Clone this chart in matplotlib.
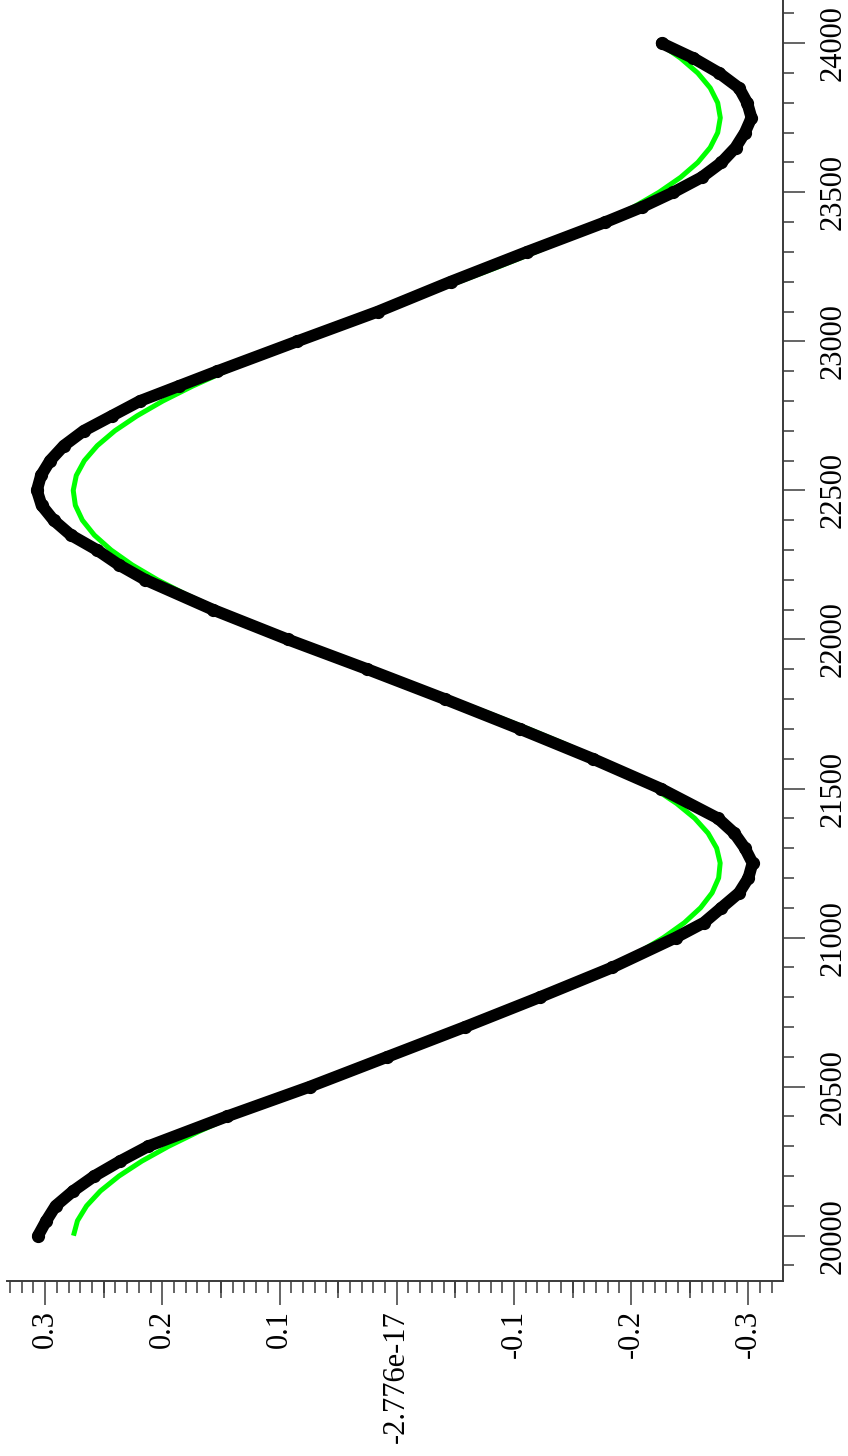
import numpy as np
import matplotlib
matplotlib.use("Agg")
import matplotlib.pyplot as plt
from matplotlib.ticker import MultipleLocator, FixedLocator, StrMethodFormatter

plt.rcParams['font.family'] = 'serif'
plt.rcParams['font.serif'] = ['Liberation Serif', 'DejaVu Serif']

meas_x = [20000, 20050, 20100, 20150, 20200, 20250, 20300, 20400, 20500, 20600, 20700,
          20800, 20900, 21000, 21050, 21100, 21150, 21200, 21250, 21300, 21350, 21400,
          21500, 21600, 21700, 21800, 21900, 22000, 22100, 22200, 22250, 22300, 22350,
          22400, 22450, 22500, 22550, 22600, 22650, 22700, 22750, 22800, 22850, 22900, 23000,
          23100, 23200, 23300, 23400, 23450, 23500, 23550, 23600, 23650, 23700, 23750,
          23800, 23850, 23900, 23950, 24000]
meas_amp = [0.306, 0.299, 0.291, 0.276, 0.258, 0.236, 0.212, 0.145, 0.074, 0.008, -0.058,
            -0.122, -0.184, -0.238, -0.262, -0.277, -0.292, -0.300, -0.3035, -0.297, -0.288, -0.274,
            -0.225, -0.167, -0.105, -0.041, 0.025, 0.093, 0.157, 0.2145, 0.237, 0.2557, 0.278,
            0.2927, 0.303, 0.307, 0.3035, 0.2957, 0.284, 0.267, 0.243, 0.219, 0.186, 0.153, 0.085,
            0.016, -0.046, -0.111, -0.178, -0.209, -0.236, -0.260, -0.277, -0.289, -0.297, -0.3026,
            -0.299, -0.292, -0.275, -0.253, -0.226]

# fitted curve, one value every 50 units from 20000 to 24000
fit_x = list(range(20000, 24001, 50))
fit_amp = [0.2758, 0.2724, 0.2646, 0.2528, 0.2370, 0.2175, 0.1946, 0.1686, 0.1400, 0.1092,
           0.0767, 0.0430, 0.0086, -0.0259, -0.0600, -0.0931, -0.1248, -0.1546, -0.1819, -0.2064,
           -0.2276, -0.2454, -0.2592, -0.2690, -0.2746, -0.2759, -0.2729, -0.2656, -0.2542, -0.2387,
           -0.2196, -0.1970, -0.1713, -0.1430, -0.1123, -0.0800, -0.0464, -0.0121, 0.0224, 0.0566,
           0.0899, 0.1217, 0.1517, 0.1793, 0.2041, 0.2257, 0.2437, 0.2580, 0.2682, 0.2742,
           0.2760, 0.2734, 0.2665, 0.2555, 0.2405, 0.2216, 0.1995, 0.1741, 0.1459, 0.1155,
           0.0833, 0.0498, 0.0155, -0.0190, -0.0532, -0.0866, -0.1186, -0.1488, -0.1767, -0.2018,
           -0.2237, -0.2421, -0.2568, -0.2674, -0.2738, -0.2760, -0.2738, -0.2674, -0.2568, -0.2421,
           -0.2237]

amp_ticks = [0.3, 0.2, 0.1, 0.0, -0.1, -0.2, -0.3]
amp_labels = ["0.3", "0.2", "0.1", "-2.776e-17", "-0.1", "-0.2", "-0.3"]
amp_mid_ticks = [0.25, 0.15, 0.05, -0.05, -0.15, -0.25]

W, H = 848, 1456
fig = plt.figure(figsize=(W / 100, H / 100), dpi=100)
ax = fig.add_axes([7 / W, (H - 1281) / H, (783 - 7) / W, 1281 / H])

# the plot is drawn "sideways": amplitude runs horizontally, position vertically
ax.plot(fit_amp, fit_x, color="#00ff00", lw=3.6, zorder=2, solid_capstyle="butt")
ax.plot(meas_amp, meas_x, color="black", lw=8.5, marker="o", ms=8.5,
        solid_capstyle="round", solid_joinstyle="round", zorder=3)

ax.set_xlim(0.3325, -0.3295)
ax.set_ylim(19848, 24145)

spine_col = "#3a3a3a"
for s in ("top", "left"):
    ax.spines[s].set_visible(False)
for s in ("bottom", "right"):
    ax.spines[s].set_color(spine_col)
    ax.spines[s].set_linewidth(1.4)

ax.set_xticks(amp_ticks)
ax.set_xticklabels(amp_labels, rotation=90)
ax.xaxis.set_minor_locator(MultipleLocator(0.01))
ax.tick_params(axis="x", which="major", direction="out", length=17.3, width=1.1,
               color=spine_col, labelsize=22, pad=3.5)
ax.tick_params(axis="x", which="minor", direction="out", length=8.6, width=1.1, color=spine_col)

# medium ticks at the .05 marks
sec = ax.secondary_xaxis("bottom")
sec.spines["bottom"].set_visible(False)
sec.xaxis.set_major_locator(FixedLocator(amp_mid_ticks))
sec.tick_params(axis="x", direction="out", length=12.5, width=1.1, color=spine_col,
                labelbottom=False)

ax.yaxis.tick_right()
ax.yaxis.set_major_locator(MultipleLocator(500))
ax.yaxis.set_minor_locator(MultipleLocator(100))
ax.yaxis.set_major_formatter(StrMethodFormatter("{x:.0f}"))
ax.tick_params(axis="y", which="major", direction="out", length=15.8, width=1.1,
               color=spine_col, labelsize=22, pad=10)
ax.tick_params(axis="y", which="minor", direction="out", length=8, width=1.1, color=spine_col)
for lab in ax.get_yticklabels():
    lab.set_rotation(90)
    lab.set_va("center")

fig.canvas.draw()
fig.savefig("out.png", dpi=100)
